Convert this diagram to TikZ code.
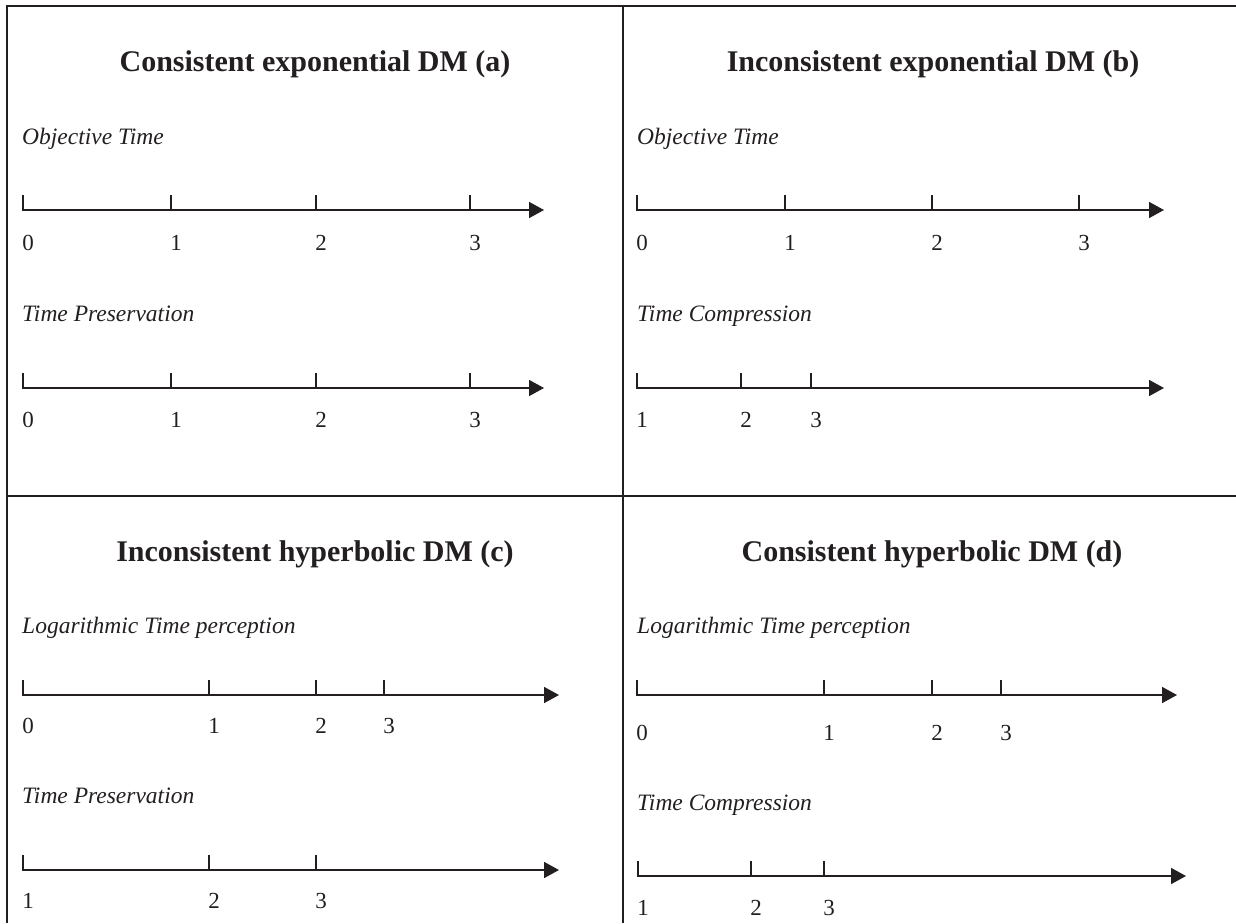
\documentclass[tikz,border=0pt]{standalone}
\usepackage{fontspec}
\setmainfont{Liberation Serif}
\usetikzlibrary{arrows.meta}
\definecolor{ink}{RGB}{35,31,32}
\tikzset{
  frameline/.style={draw=ink, line width=2.3pt},
  axisline/.style={draw=ink, line width=1.7pt, -{Triangle[length=15pt,width=16pt]}},
  tickline/.style={draw=ink, line width=1.7pt},
  paneltitle/.style={inner sep=0pt, anchor=base, text=ink, font=\fontsize{30}{36}\selectfont\bfseries},
  rowlabel/.style={inner sep=0pt, anchor=base west, text=ink, font=\fontsize{23.5}{28}\selectfont\itshape},
  digit/.style={inner sep=0pt, anchor=base, text=ink, font=\fontsize{23}{28}\selectfont},
}
% #1 name, #2 x start, #3 axis y, #4 x end, #5 label baseline y, #6 first label, #7 tick list x/label
\newcommand{\tlaxis}[7]{%
  \coordinate (#1s) at (#2,#3);
  \coordinate (#1e) at (#4,#3);
  \draw[axisline] (#1s) ++(0,-15) -- (#1s) -- (#1e);
  \node[digit] (#1-#6) at (#2+5,#5) {#6};
  \foreach \t/\l in {#7} {
    \draw[tickline] (\t,#3) -- ++(0,-15);
    \node[digit] (#1-\l) at (\t+5,#5) {\l};
  }%
}
\begin{document}
\begin{tikzpicture}[x=1pt,y=-1pt]
\useasboundingbox (0,0) rectangle (1236,923);
% frame
\coordinate (tl) at (7,6);
\coordinate (tr) at (1236,6);
\coordinate (bl) at (7,923);
\coordinate (mt) at (623,6);
\coordinate (mb) at (623,923);
\coordinate (ml) at (7,496);
\coordinate (mr) at (1236,496);
\draw[frameline] (bl) -- (tl) -- (tr);
\draw[frameline] (mt) -- (mb);
\draw[frameline] (ml) -- (mr);

% panel (a)
\node[paneltitle] (ta) at (315,72) {Consistent exponential DM (a)};
\node[rowlabel] (la1) at (22,144) {Objective Time};
\tlaxis{a1}{23}{210}{544}{250}{0}{171/1,316/2,470/3}
\node[rowlabel] (la2) at (22,321) {Time Preservation};
\tlaxis{a2}{23}{388}{544}{427}{0}{171/1,316/2,470/3}

% panel (b)
\node[paneltitle] (tb) at (933,72) {Inconsistent exponential DM (b)};
\node[rowlabel] (lb1) at (637,144) {Objective Time};
\tlaxis{b1}{637}{210}{1164}{250}{0}{785/1,932/2,1079/3}
\node[rowlabel] (lb2) at (637,321) {Time Compression};
\tlaxis{b2}{637}{388}{1164}{427}{1}{741/2,811/3}

% panel (c)
\node[paneltitle] (tc) at (315,561) {Inconsistent hyperbolic DM (c)};
\node[rowlabel] (lc1) at (22,633) {Logarithmic Time perception};
\tlaxis{c1}{23}{695}{559}{733}{0}{209/1,316/2,384/3}
\node[rowlabel] (lc2) at (22,803) {Time Preservation};
\tlaxis{c2}{23}{870}{559}{908}{1}{209/2,316/3}

% panel (d)
\node[paneltitle] (td) at (932,561) {Consistent hyperbolic DM (d)};
\node[rowlabel] (ld1) at (637,633) {Logarithmic Time perception};
\tlaxis{d1}{637}{695}{1177}{740}{0}{824/1,932/2,1001/3}
\node[rowlabel] (ld2) at (637,810) {Time Compression};
\tlaxis{d2}{638}{876}{1186}{915}{1}{751/2,824/3}
\end{tikzpicture}
\end{document}
